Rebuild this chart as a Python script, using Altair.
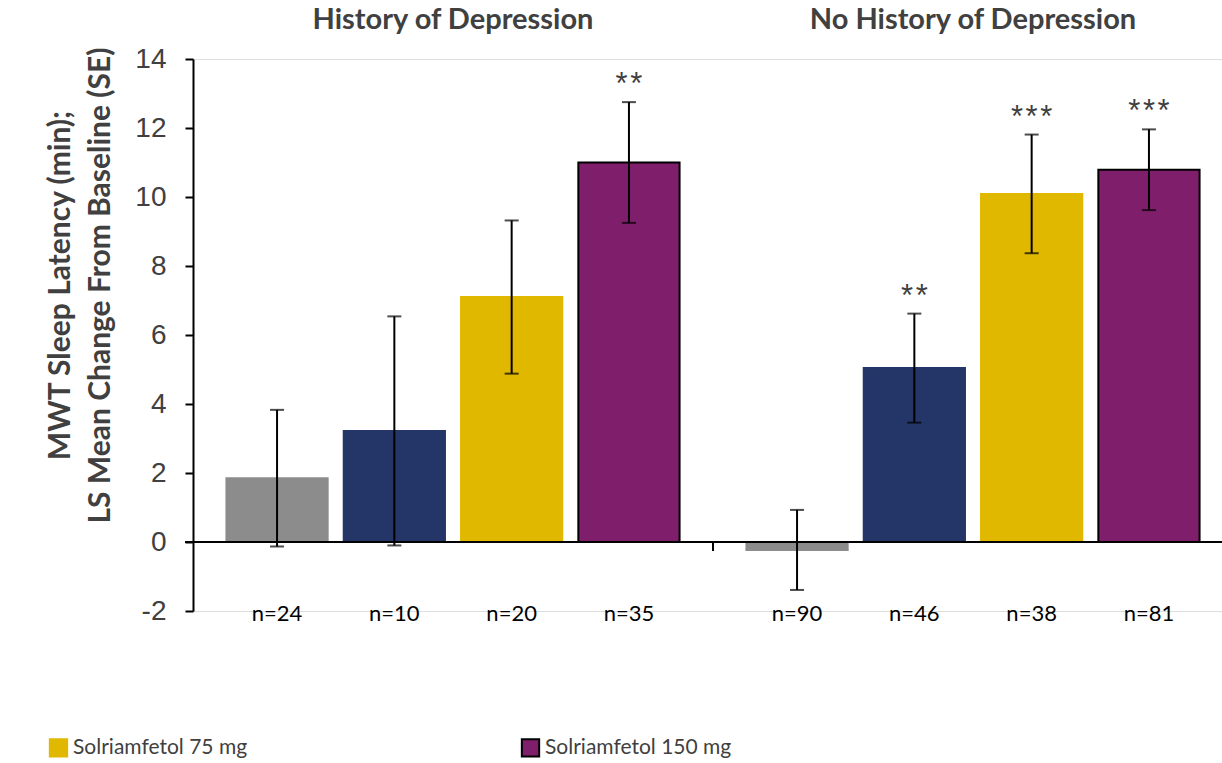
import altair as alt
import pandas as pd

# Groups and treatment arms
groups = ["History of Depression", "No History of Depression"]
treatments = ["Placebo", "Solriamfetol 37.5 mg", "Solriamfetol 75 mg", "Solriamfetol 150 mg"]
colors = ["#8c8c8c", "#243568", "#e1b800", "#7f1f6b"]
outline = ["#8c8c8c", "#243568", "#e1b800", "#000000"]

# LS mean change from baseline (min) and standard errors
hist_means = [1.85, 3.22, 7.10, 11.00]
hist_se = [1.98, 3.32, 2.22, 1.75]
nohist_means = [-0.23, 5.04, 10.09, 10.79]
nohist_se = [1.16, 1.58, 1.72, 1.17]

# Sample sizes and significance markers
hist_n = ["n=24", "n=10", "n=20", "n=35"]
nohist_n = ["n=90", "n=46", "n=38", "n=81"]
hist_sig = ["", "", "", "**"]
nohist_sig = ["", "**", "***", "***"]

rows = []
for g, means, ses, ns, sigs in [
    (groups[0], hist_means, hist_se, hist_n, hist_sig),
    (groups[1], nohist_means, nohist_se, nohist_n, nohist_sig),
]:
    for t, m, s, n, sg in zip(treatments, means, ses, ns, sigs):
        rows.append({"group": g, "treatment": t, "mean": m, "lo": m - s,
                     "hi": m + s, "n": n, "sig": sg, "nlab": -2.1})
df = pd.DataFrame(rows)

W, H = 1029, 552
ZERO_Y = H * 14 / 16  # pixel row of the zero line

x_enc = alt.X("group:N", sort=groups,
              scale=alt.Scale(domain=groups, range=[0, 1040],
                              paddingInner=0, paddingOuter=0),
              axis=alt.Axis(orient="top", title=None, domain=False, ticks=False,
                            labelFont="Lato", labelFontWeight="bold", labelFontSize=29,
                            labelColor="#404040", labelPadding=25, labelAngle=0,
                            labelLimit=800))
xo = alt.XOffset("treatment:N", sort=treatments,
                 scale=alt.Scale(domain=treatments, paddingInner=0.137, paddingOuter=0.285))
y_scale = alt.Scale(domain=[-2, 14], nice=False, zero=False)
y_axis = alt.Axis(values=list(range(-2, 15, 2)), labelExpr="datum.value + ''",
                  title=["MWT Sleep Latency (min);", "LS Mean Change From Baseline (SE)"],
                  titleFont="Lato", titleFontSize=30, titleFontWeight="bold",
                  titleColor="#404040", titlePadding=19, titleLineHeight=40,
                  titleY=226,
                  labelFont="Liberation Sans", labelFontSize=28, labelColor="#404040",
                  labelPadding=19, tickSize=8, tickColor="black", tickWidth=2,
                  domainColor="black", domainWidth=2, grid=False)

base = alt.Chart(df)

bars = base.mark_bar(strokeWidth=2).encode(
    x=x_enc, xOffset=xo,
    y=alt.Y("mean:Q", scale=y_scale, axis=y_axis),
    y2=alt.datum(0),
    color=alt.Color("treatment:N", sort=treatments,
                    scale=alt.Scale(domain=treatments, range=colors),
                    legend=alt.Legend(values=["Solriamfetol 75 mg", "Solriamfetol 150 mg"],
                                      title=None, orient="none", legendX=-145, legendY=678,
                                      direction="horizontal", columns=2, columnPadding=269,
                                      symbolType="square", symbolSize=300,
                                      symbolStrokeWidth=2, labelOffset=4,
                                      labelFont="Lato", labelFontSize=21,
                                      labelColor="#404040", labelLimit=400)),
    stroke=alt.Stroke("treatment:N", sort=treatments,
                      scale=alt.Scale(domain=treatments, range=outline)),
)

zero = base.mark_rule(color="black", strokeWidth=2).encode(
    x=alt.value(-8), x2=alt.value(W), y=alt.value(ZERO_Y))

divider = alt.Chart(pd.DataFrame({"group": [groups[1]]})).mark_rule(
    color="black", strokeWidth=2).encode(
    x=alt.X("group:N", bandPosition=0, sort=groups),
    y=alt.value(ZERO_Y), y2=alt.value(ZERO_Y + 9))

errs = base.mark_rule(color="black", strokeWidth=2).encode(
    x=x_enc, xOffset=xo, y=alt.Y("lo:Q"), y2="hi:Q")
caps_hi = base.mark_tick(color="black", thickness=2, size=14, orient="horizontal").encode(
    x=x_enc, xOffset=xo, y="hi:Q")
caps_lo = base.mark_tick(color="black", thickness=2, size=14, orient="horizontal").encode(
    x=x_enc, xOffset=xo, y="lo:Q")

# significance stars, spaced out with hair spaces
stars = base.transform_calculate(
    sig_spaced="join(split(datum.sig, ''), '\u200a')"
).mark_text(font="Liberation Sans", fontSize=31, color="#404040",
            baseline="alphabetic", dy=-8).encode(
    x=x_enc, xOffset=xo, y="hi:Q", text="sig_spaced:N")

nlabels = base.mark_text(font="Lato", fontSize=22, color="black",
                         baseline="middle").encode(
    x=x_enc, xOffset=xo, y="nlab:Q", text="n:N")

chart = alt.layer(bars, errs, caps_hi, caps_lo, stars, nlabels, zero, divider).properties(
    width=W, height=H,
    padding={"left": 193, "top": 59, "right": 0, "bottom": 152},
    autosize=alt.AutoSizeParams(type="none"),
).configure_view(stroke=None).configure(background="white")

chart.save("out.html", embed_options={"renderer": "svg", "actions": False})
